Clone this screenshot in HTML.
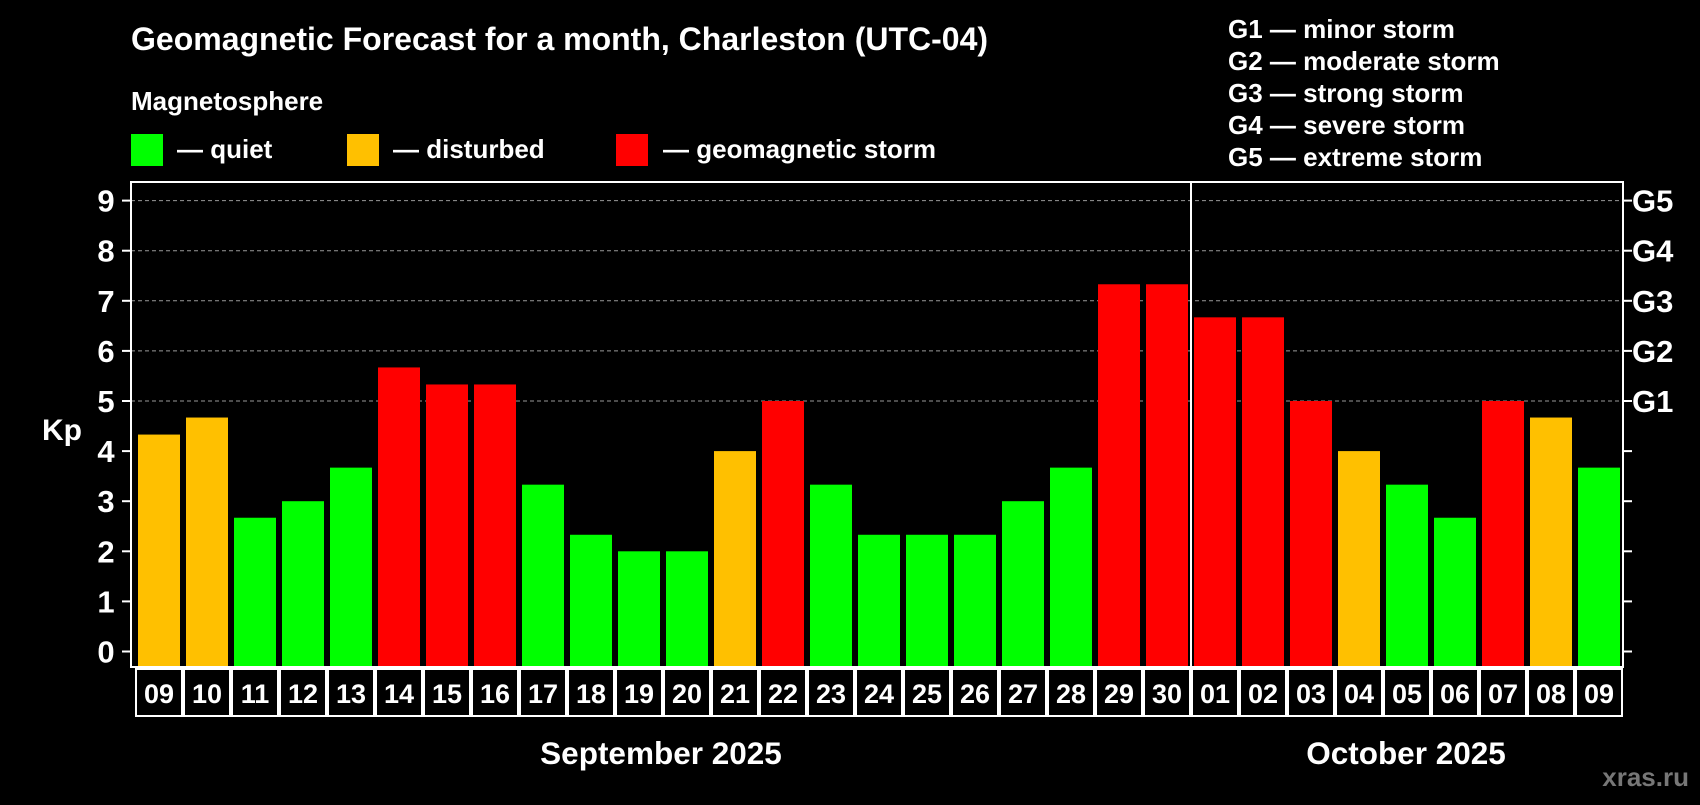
<!DOCTYPE html>
<html><head><meta charset="utf-8"><style>
body{margin:0;background:#000;width:1700px;height:800px;overflow:hidden;font-family:"Liberation Sans",Arial,sans-serif;font-weight:bold;color:#fff}
svg text{font-family:"Liberation Sans",Arial,sans-serif;font-weight:bold;fill:#fff}
</style></head><body>
<svg id="c" width="1700" height="800">
<text x="131" y="50" font-size="32">Geomagnetic Forecast for a month, Charleston (UTC-04)</text>
<text x="131" y="110" font-size="26">Magnetosphere</text>
<rect x="131" y="134" width="32" height="32" fill="#00ff00"/>
<text x="177" y="158" font-size="26">— quiet</text>
<rect x="347" y="134" width="32" height="32" fill="#ffc000"/>
<text x="393" y="158" font-size="26">— disturbed</text>
<rect x="616" y="134" width="32" height="32" fill="#ff0000"/>
<text x="663" y="158" font-size="26">— geomagnetic storm</text>
<g font-size="26">
<text x="1228" y="38">G1 — minor storm</text>
<text x="1228" y="70">G2 — moderate storm</text>
<text x="1228" y="102">G3 — strong storm</text>
<text x="1228" y="134">G4 — severe storm</text>
<text x="1228" y="166">G5 — extreme storm</text>
</g>
<text x="42" y="440" font-size="30">Kp</text>
<text x="661" y="764" font-size="31.5" text-anchor="middle">September 2025</text>
<text x="1406" y="764" font-size="31.5" text-anchor="middle">October 2025</text>
<text x="1689" y="786" font-size="26" text-anchor="end" style="fill:#777">xras.ru</text>
<g id="plot"></g>
</svg>
<script>
const days=["09","10","11","12","13","14","15","16","17","18","19","20","21","22","23","24","25","26","27","28","29","30","01","02","03","04","05","06","07","08","09"];
const kp=[4.33,4.67,2.67,3,3.67,5.67,5.33,5.33,3.33,2.33,2,2,4,5,3.33,2.33,2.33,2.33,3,3.67,7.33,7.33,6.67,6.67,5,4,3.33,2.67,5,4.67,3.67];
const yTicks=[0,1,2,3,4,5,6,7,8,9];
const gLabels=["G1","G2","G3","G4","G5"];
const gLevels=[5,6,7,8,9];
const NS="http://www.w3.org/2000/svg";
const g=document.getElementById('plot');
const L=131,R=1623,T=182,B=667,Y0=651.5,PU=50.1,X0=159,P=48,BW=42;
const y=v=>Y0-v*PU, x=i=>X0+i*P;
function mk(t,a){const e=document.createElementNS(NS,t);for(const k in a)e.setAttribute(k,a[k]);g.appendChild(e);return e;}
yTicks.forEach(v=>{
 if(v>=5){const l=mk('line',{x1:L,x2:R,y1:y(v),y2:y(v),stroke:'#999','stroke-dasharray':'4,3','stroke-width':1});
 
 }
 mk('line',{x1:L-9,x2:L,y1:y(v),y2:y(v),stroke:'#fff','stroke-width':2});
 mk('line',{x1:R,x2:R+9,y1:y(v),y2:y(v),stroke:'#fff','stroke-width':2});
 const t=mk('text',{x:106,y:y(v)+11,'font-size':31,'text-anchor':'middle'});t.textContent=v;
 
 
});
gLabels.forEach((s,i)=>{const t=mk('text',{x:1632,y:y(gLevels[i])+11,'font-size':31});t.textContent=s;
 
 });
kp.forEach((v,i)=>{
 const c=v>=5?'#ff0000':v>=4?'#ffc000':'#00ff00';
 const r=mk('rect',{x:x(i)-BW/2,y:y(v),width:BW,height:B-1-y(v),fill:c});
 
 
 const cl=x(i)-P/2+1;
 mk('rect',{x:cl,y:B+2,width:P-2,height:47,fill:'none',stroke:'#fff','stroke-width':2});
 const t=mk('text',{x:x(i),y:B+36,'font-size':27,'text-anchor':'middle'});t.textContent=days[i];
 
 
});
const fr=mk('rect',{x:L,y:T,width:R-L,height:B-T,fill:'none',stroke:'#fff','stroke-width':2});


const sx=x(22)-P/2;
const sep=mk('line',{x1:sx,x2:sx,y1:T,y2:B+50,stroke:'#fff','stroke-width':2});


</script>
</body></html>
